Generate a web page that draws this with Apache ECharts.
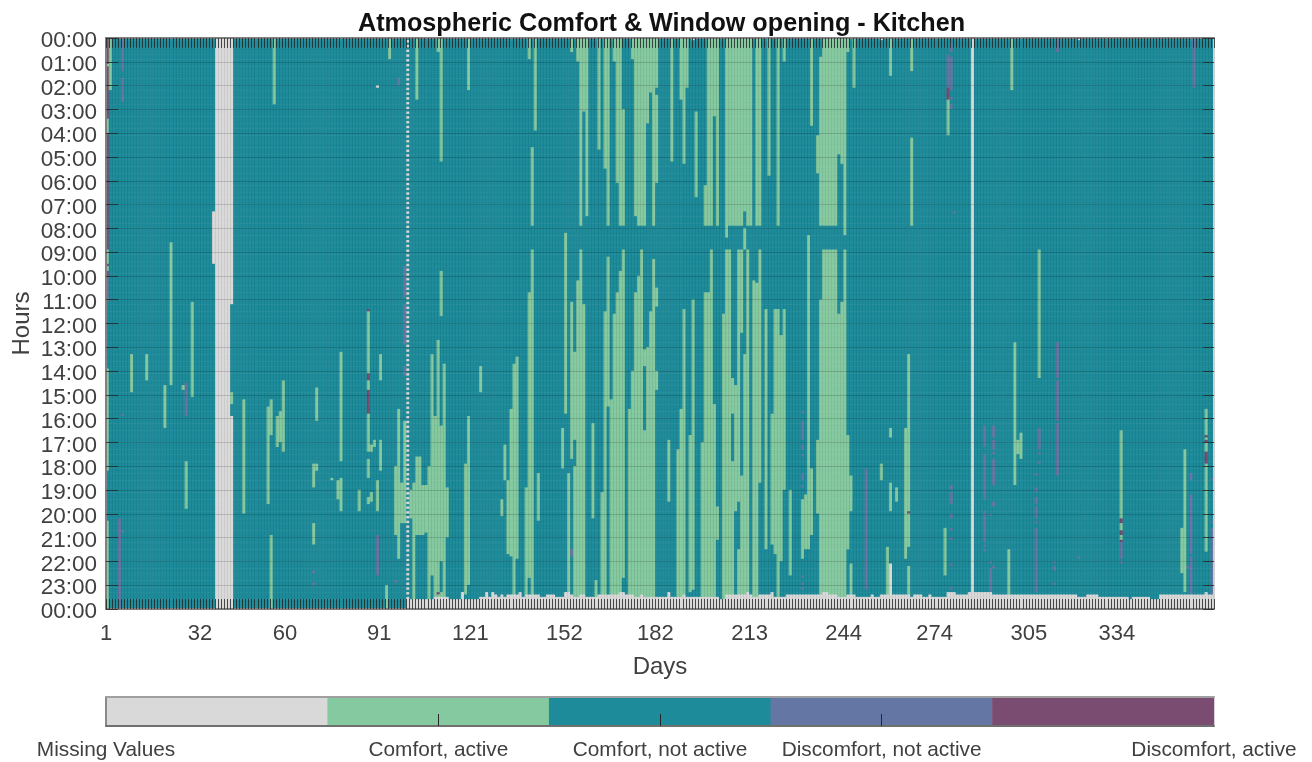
<!DOCTYPE html>
<html><head><meta charset="utf-8">
<style>html,body{margin:0;padding:0;background:#fff}#c{width:1312px;height:762px}</style>
<script src="https://cdn.jsdelivr.net/npm/echarts@6/dist/echarts.min.js"></script>
</head><body><div id="c"></div>
<script>
const titleText = 'Atmospheric Comfort & Window opening - Kitchen';
const dayTicks = [1,32,60,91,121,152,182,213,244,274,305,334];
const stateNames = ['Missing Values','Comfort, active','Comfort, not active','Discomfort, not active','Discomfort, active'];
const stateColors = ['#d9d9d9','#84c99f','#1d8b9a','#6476a3','#7a4c71'];
const dayCount = 365;
const rowsPerHour = 10;

// every run: [firstDay, lastDay, fromHour, toHour]
const comfortActive = [
 [1,1,3.4,4],[1,2,1.05,1.2],[1,1,8.9,9.45],[1,1,9.6,9.8],[1,1,13.9,18.2],[1,1,20.25,24],[2,2,0,2.2],
 [9,9,13.3,14.9],[14,14,13.3,14.35],[20,20,14.6,16.4],[22,22,8.6,14.6],[26,26,14.6,14.8],[27,27,17.8,19.75],[29,29,11.05,15.05],
 [42,42,14.93,15.42],[46,46,15.15,20],[54,54,15.5,19.6],[55,55,15.15,16.7],[55,55,20.85,24],[56,56,0,2.8],[57,57,15.85,17.15],[58,58,15.7,17],[59,59,14.35,17.4],
 [69,69,17.9,18.9],[69,69,20.4,21.25],[70,70,14.65,16.1],[70,70,17.9,18.2],[75,75,18.5,18.6],[77,77,18.6,19.35],[78,78,13.2,17.75],[78,78,18.45,19.85],
 [84,84,19,19.9],[87,87,11.5,14.1],[87,87,14.4,14.75],[87,87,15.8,17.4],[87,87,17.7,18.45],[87,87,19.27,19.6],[88,88,17.1,17.4],[88,88,19.1,19.5],[89,89,16.85,17.15],
 [90,90,18.6,19.85],[91,91,13.3,14.4],[91,91,16.9,18.15],[93,93,23,24],[94,94,0,0.9],
 [96,96,18,20.9],[97,97,15.56,21.9],[98,98,18.7,20.4],[99,99,16.1,20.4],[101,101,19,20.2],[102,102,18.7,23.6],[103,103,0,2.6],[103,104,17.6,20.9],[105,105,18.8,20.85],[106,106,18.75,20.75],
 [107,107,18,23.6],[108,108,13.3,22.6],[109,109,15.85,23.6],[110,110,0,0.6],[110,110,12.66,23.6],[111,111,0,5.2],[111,111,9.75,11.7],[111,111,16.26,22],[111,111,23.3,23.6],[112,112,13.74,23.6],[113,113,18.85,21],
 [119,119,17.9,23.4],[120,120,0,2.2],[120,120,15.85,22.95],[124,124,13.8,14.85],[131,131,19.35,20.1],[132,132,17.1,18.6],[133,133,18.6,21.65],[134,134,15.6,21.75],[135,135,13.74,23.6],[136,136,13.4,21.9],
 [139,139,18.9,23.5],[140,140,0,0.85],[140,140,10.65,22.65],[141,141,4.6,7.9],[141,141,8.9,23.5],[142,142,0,3.9],[143,143,18.3,20.25],
 [151,151,16.4,18.1],[152,152,8.15,15.75],[153,153,18.3,23.4],[154,154,0,0.6],[154,154,11.08,17.66],[155,155,13.2,16.9],[155,155,18,23.6],
 [156,156,0,1],[156,156,10.17,23.6],[157,157,0,7.9],[157,157,8.9,23.6],[158,158,0,3.1],[158,158,11.15,23.6],[159,159,0,7.5],[161,161,16.2,20.2],[162,162,22.8,23.6],
 [163,163,0,4.7],[164,164,19.1,23.6],[165,165,0,5.5],[165,165,11.5,23.6],[166,166,0,7.9],[166,166,9.16,15.5],[166,166,23.35,23.6],[167,167,15.2,23.6],[168,168,0,1],[168,168,11.57,23.6],
 [169,169,0,6.1],[169,169,10.66,23.6],[170,170,0,7.9],[170,170,9.8,23.6],[171,171,3,7.9],[171,171,8.9,22.65],[173,173,15.55,23.6],[174,174,0,0.9],[174,174,14,23.6],
 [175,175,0,7.5],[175,175,10.66,23.6],[176,176,9.96,23.6],[176,178,0,7.9],[177,177,8.9,23.6],[178,178,13.05,13.75],[178,178,16.5,23.6],[179,179,0,3.6],[179,179,13.04,23.6],
 [180,180,0,2.3],[180,180,11.5,23.6],[181,181,0,7.9],[181,181,9.26,23.6],[182,182,0,2.1],[182,182,2.4,6.1],[182,182,10.5,11.3],[182,182,14,14.8],
 [186,186,16.9,19.5],[187,187,0,5.2],[189,189,17.3,23.6],[190,190,0,2.6],[190,190,15.56,23.6],[191,191,0,5.3],[191,191,11.4,23.6],[192,192,0,2.1],[193,193,16.7,23.3],[194,194,11,23.2],[195,195,3.05,6.7],
 [197,197,17,23.6],[198,198,6.2,7.9],[198,198,10.7,23.6],[199,199,0,7.9],[199,199,10.66,23.6],[200,200,0,7.9],[200,200,8.9,23.6],[201,201,0,3.3],[201,201,15.4,23.6],[202,202,0,7.9],[202,202,19.7,21.1],
 [204,204,11.57,23.6],[205,205,0,8.4],[205,206,8.9,23.6],[206,210,0,7.9],[207,207,14.3,15.8],[207,207,17.75,23.6],[208,208,14.6,19.85],[209,209,8.9,19.5],[209,209,21.5,23.6],[210,210,8.9,12.4],[210,210,18.4,23.6],
 [211,211,0,7.3],[211,211,8,8.9],[211,211,13.25,23.5],[212,213,0,7.9],[212,212,8.9,23.6],[214,214,10.17,23.6],[215,216,0,7.9],[215,215,10.3,23.6],[216,216,8.9,18.65],
 [218,218,11.35,21.5],[219,219,0,5.8],[220,220,15.84,21.25],[221,221,11.4,21.65],[222,222,0,7.9],[222,222,11.4,23.6],[223,223,12.5,22],[224,224,0,1],[224,224,11.4,18.95],
 [226,226,19,22.6],[230,230,19.35,21.9],[231,231,19.15,21.5],[232,232,8.3,21.5],[233,233,0,3.7],[233,233,18.1,20.85],[235,235,4.08,5.73],[235,235,16.9,20],
 [236,236,0.78,7.9],[236,236,10.98,23.6],[237,241,0,7.9],[237,241,8.9,23.6],[242,242,0,4.9],[242,242,11.6,23.6],[243,243,0,5.3],[243,243,11.1,23.6],[244,244,0,8.3],[244,244,8.9,23.6],[245,245,0,0.6],[245,245,16.7,21.5],
 [246,246,18.4,19.85],[246,246,22.1,23.6],[247,247,0,2.05],
 [256,256,17.9,18.6],[258,258,21.36,23.5],[259,259,0,1.6],[259,259,16.4,16.75],[259,259,18.7,19.85],[261,261,18.85,19.5],[264,264,16.4,21.85],[265,265,13.25,21.4],[265,265,22.2,23.5],
 [266,266,0,1.35],[266,266,4.15,7.9],[277,277,20.6,22.6],[278,278,2.55,4.05],[298,298,21.45,23.5],[299,299,0,2.2],[300,300,12.75,18.75],[301,301,16.9,17.5],[302,302,16.6,17.65],[308,308,8.9,14.3],
 [335,335,16.5,20.2],[335,335,20.4,20.7],[335,335,20.85,21.05],[355,355,20.55,22.5],[356,356,17.25,23.25],[363,363,15.6,21.6]
];
const discomfortNotActive = [
 [1,1,10,11.1],[5,5,20.2,24],[6,6,0,1.4],[6,6,1.65,2.7],[6,6,15.75,15.9],[6,6,20.7,20.8],[27,27,14.45,15.9],[42,42,15.85,15.95],
 [69,69,22.4,22.5],[69,69,22.85,22.95],[90,90,20.85,22.6],[96,96,22.75,22.9],[97,97,1.7,1.95],[99,99,9.55,10.9],[99,99,11.2,12.9],[99,99,13.8,14.15],
 [154,154,21.5,21.8],[230,230,15.72,15.82],[230,230,16.1,16.9],[230,230,17.05,17.25],[230,230,17.45,17.55],[230,230,18.3,18.6],[230,230,18.8,18.9],[230,230,22.6,22.7],[230,230,22.85,22.95],[230,230,23.1,23.2],
 [251,251,18.1,23.15],[278,278,0.7,2.05],[279,279,0.15,0.6],[279,279,0.8,2.2],[279,279,2.45,2.55],[279,279,2.75,2.95],[279,279,18.8,18.95],[279,279,19.05,19.6],[279,279,19.95,20.15],[279,279,20.6,20.7],[279,279,21,21.1],[279,279,22.1,22.2],[279,279,23.1,23.2],
 [280,280,7.3,7.4],[290,290,16.3,17.2],[290,290,17.5,19.35],[290,290,19.9,21.15],[290,290,21.3,21.4],[290,290,21.45,21.55],[292,292,20,20.1],[292,292,21.95,22.05],[292,292,22.3,23.35],
 [293,293,16.3,16.75],[293,293,16.85,17.3],[293,293,17.4,17.5],[293,293,17.7,18.75],[293,293,19.5,19.65],[293,293,22.15,22.3],
 [307,307,18.3,18.4],[307,307,18.85,19.05],[307,307,19.3,19.55],[307,307,19.7,20.15],[307,307,20.3,20.4],[307,307,20.55,23.25],[308,308,16.4,17.3],[308,308,17.4,17.5],[308,308,17.75,17.85],
 [313,313,21.95,22.05],[313,313,22.2,22.4],[313,313,22.85,22.95],[314,314,0,0.55],[314,314,12.76,14.3],[314,314,14.4,16.05],[314,314,16.2,18.4],[321,321,21.8,21.9],
 [335,335,21.2,21.9],[335,335,22,22.1],[357,357,22.2,22.3],[358,358,18.3,18.6],[358,358,19.2,21.65],[358,358,21.8,23.4],[359,359,0,2.1],[365,365,18.45,18.55],[365,365,20.25,20.4],[365,365,20.55,23.4]
];
const discomfortActive = [
 [1,1,0,1.05],[1,1,1.2,3.4],[1,1,4,8.9],[1,1,9.45,9.6],[1,1,9.8,10],[87,87,11.35,11.5],[87,87,14.1,14.4],[87,87,14.75,15.8],[110,110,23.3,23.4],
 [265,265,19.85,19.95],[278,278,2.05,2.55],[335,335,20.2,20.4],[335,335,20.7,20.85],[335,335,21.05,21.15],[363,363,16.7,16.78],[363,363,16.85,17],[363,363,17.35,17.85]
];
const missingRuns = [
 [36,36,7.3,9.47],[37,41,0,24],[42,42,0,11.15],[42,42,15.9,24],[90,90,1.95,2.05],[194,194,0,0.1],[256,256,0,0.1],[259,259,22.1,23.4],[286,286,0,24],[321,321,0,0.1]
];
// day 100: the isolated missing samples that make up the dotted column
const dottedDay = 100;
const dottedHours = [0.1,0.3,0.5,0.7,0.9,1.1,1.3,1.5,1.7,1.9,2.1,2.3,2.5,2.7,2.9,3.1,3.3,3.5,3.7,3.9,4.1,4.3,4.5,4.7,4.9,5.1,5.3,5.5,5.7,5.9,6.1,6.3,6.5,6.7,6.9,7.1,7.3,7.5,7.7,7.9,8.1,8.3,8.5,8.7,8.9,9.1,9.3,9.5,9.7,9.9,10.1,10.3,10.5,10.7,10.9,11.1,11.3,11.5,11.7,11.9,12.1,12.3,12.5,12.7,12.9,13.1,13.3,13.5,13.7,13.9,14.1,14.3,14.5,14.7,14.9,15.1,15.3,15.5,15.7,15.9,16.1,16.3,16.5,16.7,16.9,17.1,17.3,17.5,17.7,17.9,18.1,18.3,18.5,18.7,18.9,19.1,19.3,19.5,19.7,19.9,20.1,20.3,20.5,20.7,20.9,21.1,21.3,21.5,21.7,21.9,22.1,22.3,22.5,22.7,22.9,23.1,23.3,23.5];
// end-of-day gap: [firstDay, lastDay, hour the missing tail starts]
const missingTail = [
 [100,108,23.6],[109,113,23.5],[114,117,23.6],[118,118,23.3],[119,123,23.6],[124,125,23.5],[126,126,23.3],[127,127,23.5],[128,128,23.3],[129,129,23.4],[130,130,23.5],[131,131,23.4],[132,132,23.5],
 [133,136,23.4],[137,137,23.3],[138,138,23.5],[139,143,23.4],[144,145,23.5],[146,148,23.4],[149,151,23.5],[152,153,23.3],[154,154,23.4],[155,156,23.5],[157,158,23.4],[159,162,23.5],[163,169,23.4],[170,171,23.3],
 [172,174,23.4],[175,176,23.5],[177,177,23.4],[178,185,23.5],[186,186,23.3],[187,190,23.5],[191,191,23.4],[192,202,23.5],[203,204,23.6],[205,211,23.4],[212,212,23.3],[213,213,23.4],[214,215,23.5],[216,219,23.4],[220,220,23.3],
 [221,224,23.5],[225,236,23.4],[237,238,23.3],[239,241,23.4],[242,244,23.5],[245,247,23.4],[248,252,23.5],[253,253,23.4],[254,255,23.5],[256,265,23.4],[266,266,23.5],[267,269,23.4],[270,271,23.5],[272,272,23.4],[273,277,23.5],
 [278,280,23.3],[281,284,23.4],[285,292,23.3],[293,320,23.4],[321,323,23.5],[324,327,23.4],[328,337,23.5],[338,338,23.6],[339,344,23.5],[345,347,23.6],[348,362,23.4],[363,363,23.3],[364,365,23.4]
];

const days = Array.from({length: dayCount}, (_, i) => String(i + 1));
const rows = Array.from({length: 24 * rowsPerHour}, (_, i) => String(i));

const grid = days.map(() => rows.map(() => 2));
function paint(runs, state) {
  runs.forEach(([d0, d1, h0, h1]) => {
    const r0 = Math.round(h0 * rowsPerHour);
    const r1 = Math.max(r0 + 1, Math.round(h1 * rowsPerHour));
    for (let d = d0; d <= d1; d++) for (let r = r0; r < r1 && r < rows.length; r++) grid[d - 1][r] = state;
  });
}
paint(comfortActive, 1);
paint(discomfortNotActive, 3);
paint(discomfortActive, 4);
paint(missingRuns, 0);
dottedHours.forEach(h => paint([[dottedDay, dottedDay, h, h + 0.1]], 0));
missingTail.forEach(([d0, d1, h]) => paint([[d0, d1, h, 24]], 0));
const cells = [];
grid.forEach((col, d) => col.forEach((v, r) => cells.push([d, r, v])));

const font = '"Liberation Sans", Arial, sans-serif';
const textColor = '#404040';
const hidden = {show: false};
const tickStyle = {color: 'rgba(38,38,38,0.8)', width: 1};
const edge = c => ({show: true, onZero: false, lineStyle: {color: c, width: 2}});
const catAxis = (gridIndex, data, inverse) => ({type: 'category', gridIndex, data, inverse: !!inverse, show: false, axisLine: {onZero: false}});

const chart = echarts.init(document.getElementById('c'), null, {renderer: 'canvas'});
chart.setOption({
  animation: false,
  backgroundColor: '#fff',
  title: {text: titleText, left: 353, top: 7, textStyle: {fontFamily: font, fontWeight: 'bold', fontSize: 25.2, color: '#111'}},
  grid: [
    {left: 106, top: 38, width: 1108, height: 571, outerBoundsMode: 'none'},
    {left: 106, top: 697, width: 1108, height: 29, outerBoundsMode: 'none'}
  ],
  visualMap: {show: false, type: 'piecewise', seriesIndex: [0, 1], dimension: 2,
    pieces: stateColors.map((color, value) => ({value, color}))},
  xAxis: [
    catAxis(0, days),
    {type: 'value', gridIndex: 0, position: 'bottom', min: 1, max: 366, interval: 1, z: 10,
      name: 'Days', nameLocation: 'middle', nameGap: 46, nameTextStyle: {fontFamily: font, fontSize: 24, color: textColor},
      axisLine: edge('#808080'),
      axisTick: {show: true, inside: true, length: 10, lineStyle: tickStyle},
      axisLabel: {customValues: dayTicks, margin: 14, fontFamily: font, fontSize: 22, color: textColor},
      splitLine: {show: true, lineStyle: {color: 'rgba(0,0,0,0.07)', width: 1}}},
    {type: 'value', gridIndex: 0, position: 'top', min: 1, max: 366, interval: 1, z: 10,
      axisLine: edge('#808080'),
      axisTick: {show: true, inside: true, length: 10, lineStyle: tickStyle},
      axisLabel: hidden, splitLine: hidden},
    catAxis(1, stateNames),
    {type: 'value', gridIndex: 1, position: 'bottom', min: 0, max: 5, interval: 0.5, z: 10,
      axisLine: edge('#707070'),
      axisTick: {show: true, inside: true, length: 12, customValues: [1.5, 2.5, 3.5], lineStyle: {color: '#262626', width: 1}},
      axisLabel: {customValues: [0, 1.5, 2.5, 3.5, 5], margin: 14, fontFamily: font, fontSize: 20.8, color: textColor,
        formatter: v => ({0: stateNames[0], 1.5: stateNames[1], 2.5: stateNames[2], 3.5: stateNames[3], 5: stateNames[4]})[v] || ''},
      splitLine: hidden},
    {type: 'value', gridIndex: 1, position: 'top', min: 0, max: 5, interval: 0.5, z: 10,
      axisLine: edge('#a0a0a0'), axisTick: hidden, axisLabel: hidden, splitLine: hidden}
  ],
  yAxis: [
    catAxis(0, rows, true),
    {type: 'value', gridIndex: 0, position: 'left', inverse: true, min: 0, max: 24, interval: 1, z: 10,
      name: 'Hours', nameLocation: 'middle', nameGap: 72, nameMoveOverlap: false, nameTextStyle: {fontFamily: font, fontSize: 24, color: textColor},
      axisLine: edge('#808080'),
      axisTick: {show: true, inside: true, length: 12, lineStyle: tickStyle},
      axisLabel: {margin: 9, fontFamily: font, fontSize: 22.5, color: textColor, verticalAlign: 'top', lineHeight: 24, padding: [-9, 0, 0, 0],
        formatter: v => String(v % 24).padStart(2, '0') + ':00'},
      splitLine: {show: true, lineStyle: {color: 'rgba(0,0,0,0.15)', width: 1}}},
    {type: 'value', gridIndex: 0, position: 'right', inverse: true, min: 0, max: 24, interval: 1, z: 10,
      axisLine: edge('#cfcfcf'),
      axisTick: {show: true, inside: true, length: 11, lineStyle: tickStyle},
      axisLabel: hidden, splitLine: hidden},
    catAxis(1, ['bar']),
    {type: 'value', gridIndex: 1, position: 'left', min: 0, max: 1, interval: 1, z: 10,
      axisLine: edge('#8a8a8a'), axisTick: hidden, axisLabel: hidden, splitLine: hidden}
  ],
  series: [
    {type: 'heatmap', xAxisIndex: 0, yAxisIndex: 0, data: cells, progressive: 0, silent: true, emphasis: {disabled: true}},
    {type: 'heatmap', xAxisIndex: 3, yAxisIndex: 3, data: stateNames.map((_, i) => [i, 0, i]), progressive: 0, silent: true, emphasis: {disabled: true}}
  ]
});
</script></body></html>
